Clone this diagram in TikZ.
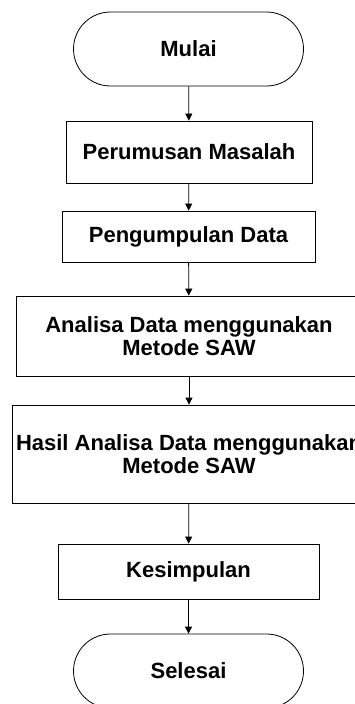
\documentclass[tikz,border=0pt]{standalone}
\usepackage{fontspec}
\setmainfont{Liberation Sans}
\usetikzlibrary{shapes.misc,arrows.meta}
\begin{document}
\begin{tikzpicture}[x=1pt,y=-1pt,
  every node/.style={font=\bfseries\fontsize{22}{23}\selectfont, align=center, line width=0.8pt, inner sep=0pt},
  terminal/.style={draw, rounded rectangle, minimum width=230pt, minimum height=74pt},
  process/.style={draw, rectangle},
  flow/.style={line width=0.8pt, -{Triangle[width=7pt,length=7pt]}}]
\useasboundingbox (0,0) rectangle (355,704);
\clip (0,0) rectangle (355,704);
\node[terminal] (mulai) at (188.5,49) {Mulai};
\node[process, minimum width=246pt, minimum height=62pt] (rumus) at (189,152) {Perumusan Masalah};
\node[process, minimum width=253pt, minimum height=51pt] (kumpul) at (188.5,236.5) {Pengumpulan Data};
\node[process, minimum width=346pt, minimum height=80pt] (analisa) at (189,336) {Analisa Data menggunakan\\Metode SAW};
\node[process, minimum width=354pt, minimum height=98pt] (hasil) at (189,454) {Hasil Analisa Data menggunakan\\Metode SAW};
\node[process, minimum width=261pt, minimum height=55pt] (simpul) at (188.5,571.5) {Kesimpulan};
\node[terminal] (selesai) at (188.5,671) {Selesai};
\draw[flow] (mulai) -- (rumus);
\draw[flow] (rumus) -- (kumpul);
\draw[flow] (kumpul) -- (analisa);
\draw[flow] (analisa) -- (hasil);
\draw[flow] (hasil) -- (simpul);
\draw[flow] (simpul) -- (selesai);
\end{tikzpicture}
\end{document}
